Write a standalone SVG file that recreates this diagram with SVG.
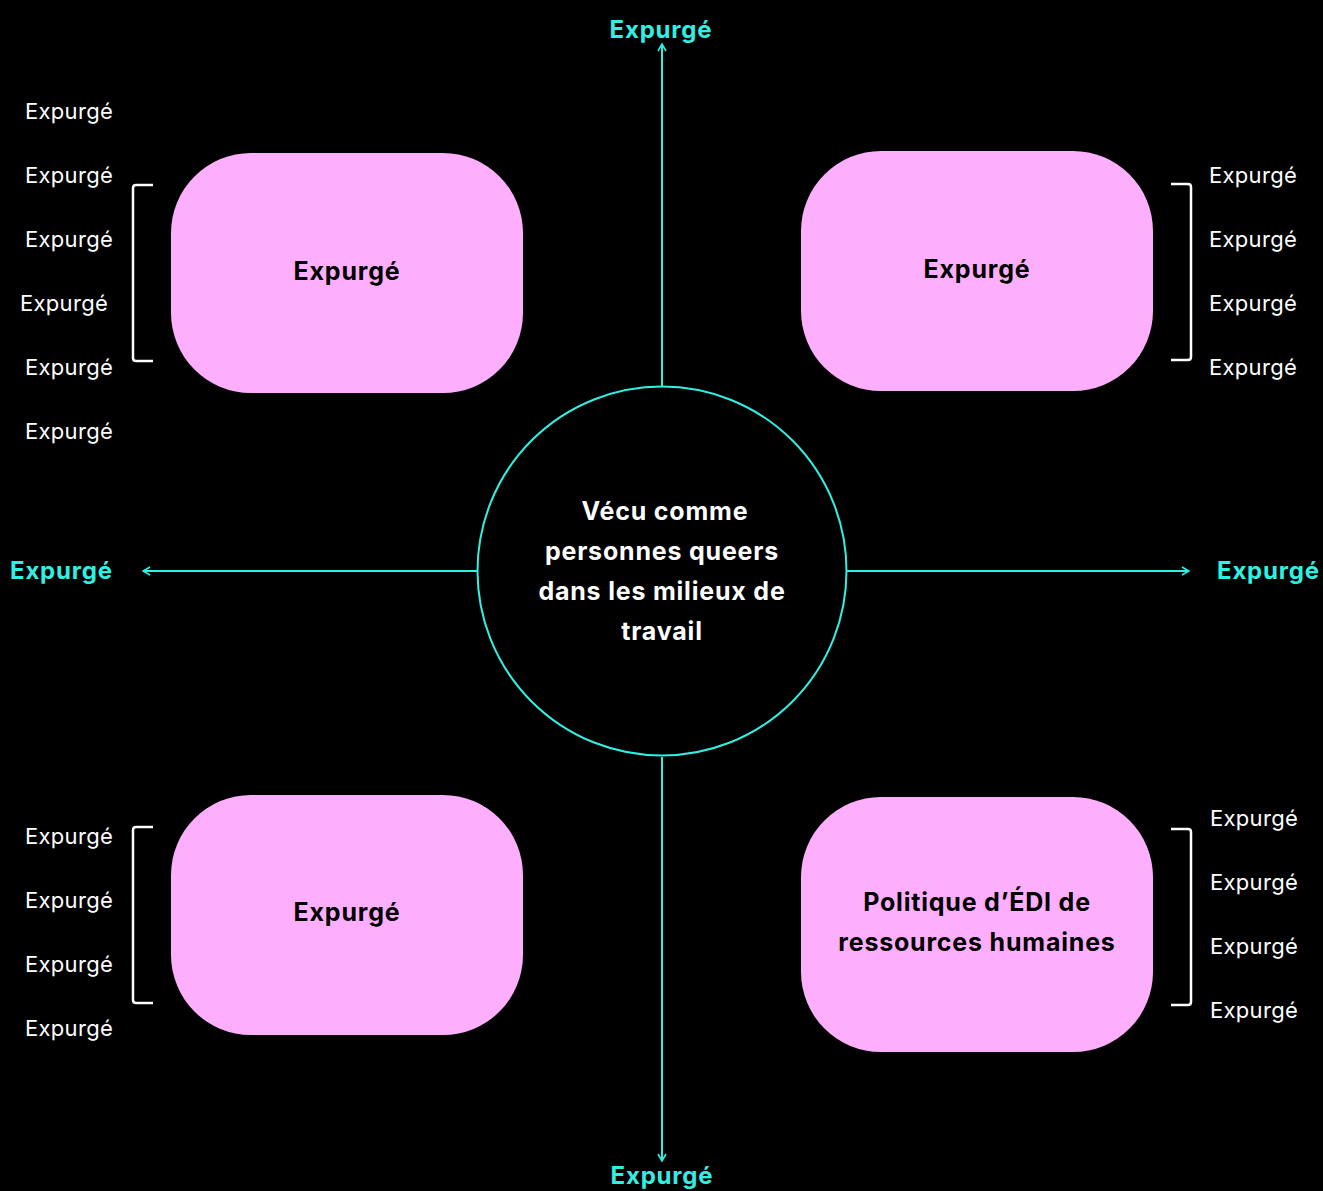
<svg xmlns="http://www.w3.org/2000/svg" width="1323" height="1191" viewBox="0 0 1323 1191">
<defs>
<style>
.lbl{font-family:Inter,"Liberation Sans",sans-serif;font-size:22px;letter-spacing:0.3px;fill:#ffffff}
.cy{font-family:Inter,"Liberation Sans",sans-serif;font-size:24px;font-weight:700;letter-spacing:0.8px;fill:#2FF0E2}
.bx{fill:#FDAFFD}
.bt{font-family:Inter,"Liberation Sans",sans-serif;font-size:25px;font-weight:700;letter-spacing:0.8px;fill:#000000;text-anchor:middle}
.ct{font-family:Inter,"Liberation Sans",sans-serif;font-size:25px;font-weight:700;letter-spacing:0.8px;fill:#ffffff;text-anchor:middle}
.ln{stroke:#2FF0E2;stroke-width:2;fill:none}
.br{stroke:#ffffff;stroke-width:2.5;fill:none;stroke-linejoin:round}
</style>
<marker id="ah" viewBox="0 0 10 10" refX="9" refY="5" markerWidth="10" markerHeight="10" markerUnits="userSpaceOnUse" orient="auto">
<path d="M2,1 L9,5 L2,9" fill="none" stroke="#2FF0E2" stroke-width="1.6"/>
</marker>
</defs>
<rect width="1323" height="1191" fill="#000000"/>
<g id="connectors">
<line class="ln" x1="662" y1="386" x2="662" y2="44" marker-end="url(#ah)"/>
<line class="ln" x1="662" y1="757" x2="662" y2="1161" marker-end="url(#ah)"/>
<line class="ln" x1="477" y1="571" x2="143" y2="571" marker-end="url(#ah)"/>
<line class="ln" x1="847" y1="571" x2="1189" y2="571" marker-end="url(#ah)"/>
</g>
<g id="center">
<circle cx="662" cy="571" r="184.5" fill="#000000" stroke="#2FF0E2" stroke-width="2"/>
<text class="ct" x="665" y="520">Vécu comme</text>
<text class="ct" x="662" y="560">personnes queers</text>
<text class="ct" x="662" y="600">dans les milieux de</text>
<text class="ct" x="662" y="640">travail</text>
</g>
<g id="label-top"><text class="cy" x="661" y="38" text-anchor="middle">Expurgé</text></g>
<g id="label-bottom"><text class="cy" x="662" y="1184" text-anchor="middle">Expurgé</text></g>
<g id="label-left"><text class="cy" x="10" y="579">Expurgé</text></g>
<g id="label-right"><text class="cy" x="1217" y="579">Expurgé</text></g>
<g id="box-tl">
<rect class="bx" x="171" y="153" width="352" height="240" rx="80" ry="80"/>
<text class="bt" x="347" y="280">Expurgé</text>
</g>
<g id="box-tr">
<rect class="bx" x="801" y="151" width="352" height="240" rx="80" ry="80"/>
<text class="bt" x="977" y="278">Expurgé</text>
</g>
<g id="box-bl">
<rect class="bx" x="171" y="795" width="352" height="240" rx="80" ry="80"/>
<text class="bt" x="347" y="921">Expurgé</text>
</g>
<g id="box-br">
<rect class="bx" x="801" y="797" width="352" height="255" rx="80" ry="80"/>
<text class="bt" x="977" y="911">Politique d’ÉDI de</text>
<text class="bt" x="977" y="951">ressources humaines</text>
</g>
<g id="list-tl">
<path class="br" d="M153,185 L136,185 Q133,185 133,188 L133,358 Q133,361 136,361 L153,361"/>
<text class="lbl" x="25" y="119">Expurgé</text>
<text class="lbl" x="25" y="183">Expurgé</text>
<text class="lbl" x="25" y="247">Expurgé</text>
<text class="lbl" x="20" y="311">Expurgé</text>
<text class="lbl" x="25" y="375">Expurgé</text>
<text class="lbl" x="25" y="439">Expurgé</text>
</g>
<g id="list-tr">
<path class="br" d="M1171,184 L1188,184 Q1191,184 1191,187 L1191,357 Q1191,360 1188,360 L1171,360"/>
<text class="lbl" x="1209" y="183">Expurgé</text>
<text class="lbl" x="1209" y="247">Expurgé</text>
<text class="lbl" x="1209" y="311">Expurgé</text>
<text class="lbl" x="1209" y="375">Expurgé</text>
</g>
<g id="list-bl">
<path class="br" d="M153,827 L136,827 Q133,827 133,830 L133,1000 Q133,1003 136,1003 L153,1003"/>
<text class="lbl" x="25" y="844">Expurgé</text>
<text class="lbl" x="25" y="908">Expurgé</text>
<text class="lbl" x="25" y="972">Expurgé</text>
<text class="lbl" x="25" y="1036">Expurgé</text>
</g>
<g id="list-br">
<path class="br" d="M1171,829 L1188,829 Q1191,829 1191,832 L1191,1002 Q1191,1005 1188,1005 L1171,1005"/>
<text class="lbl" x="1210" y="826">Expurgé</text>
<text class="lbl" x="1210" y="890">Expurgé</text>
<text class="lbl" x="1210" y="954">Expurgé</text>
<text class="lbl" x="1210" y="1018">Expurgé</text>
</g>
</svg>
